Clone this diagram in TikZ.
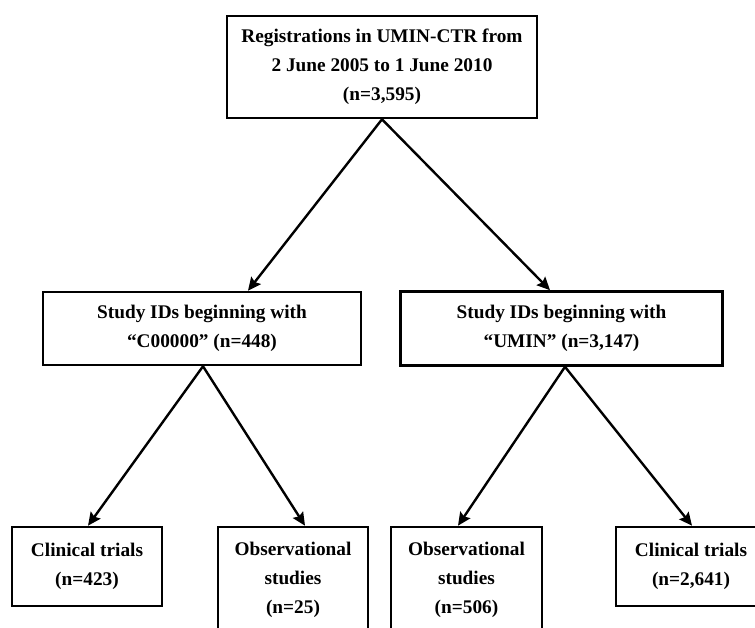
\documentclass[tikz,border=0pt]{standalone}
\usepackage{fontspec}
\setmainfont{Liberation Serif}
\usetikzlibrary{arrows.meta}
\tikzset{
  box/.style={draw, line width=2.6pt, align=center, inner sep=0pt,
    font=\fontsize{19.3}{29}\selectfont\bfseries},
  arr/.style={line width=2.4pt, -{Stealth[length=13pt,width=12pt,inset=2pt]}}
}
\begin{document}
\begin{tikzpicture}[x=1pt,y=-1pt]
\fill[white] (0,0) rectangle (755,628);
\useasboundingbox (0,0) rectangle (755,628);
\clip (0,0) rectangle (755,628);
\node[box, minimum width=310pt, minimum height=102pt] (top) at (382,67)
  {Registrations in UMIN-CTR from\\2 June 2005 to 1 June 2010\\(n=3,595)};
\node[box, minimum width=318pt, minimum height=73pt] (ml) at (202,328.5)
  {Study IDs beginning with\\“C00000” (n=448)};
\node[box, minimum width=322pt, minimum height=74pt] (mr) at (561.5,328.5)
  {Study IDs beginning with\\“UMIN” (n=3,147)};
\node[box, minimum width=150pt, minimum height=79pt] (b1) at (87,566.5)
  {Clinical trials\\(n=423)};
\node[box, minimum width=150pt, minimum height=106pt] (b2) at (293,580)
  {Observational\\studies\\(n=25)};
\node[box, minimum width=151pt, minimum height=106pt] (b3) at (466.5,580)
  {Observational\\studies\\(n=506)};
\node[box, minimum width=150pt, minimum height=79pt] (b4) at (691,566.5)
  {Clinical trials\\(n=2,641)};
\draw[arr] (top.south) -- ([xshift=46pt]ml.north);
\draw[arr] (top.south) -- ([xshift=-11.5pt]mr.north);
\draw[arr] ([xshift=1pt]ml.south) -- ([xshift=1pt]b1.north);
\draw[arr] ([xshift=1pt]ml.south) -- ([xshift=12pt]b2.north);
\draw[arr] ([xshift=3.5pt]mr.south) -- ([xshift=-8.5pt]b3.north);
\draw[arr] ([xshift=3.5pt]mr.south) -- ([xshift=1pt]b4.north);
\end{tikzpicture}
\end{document}
